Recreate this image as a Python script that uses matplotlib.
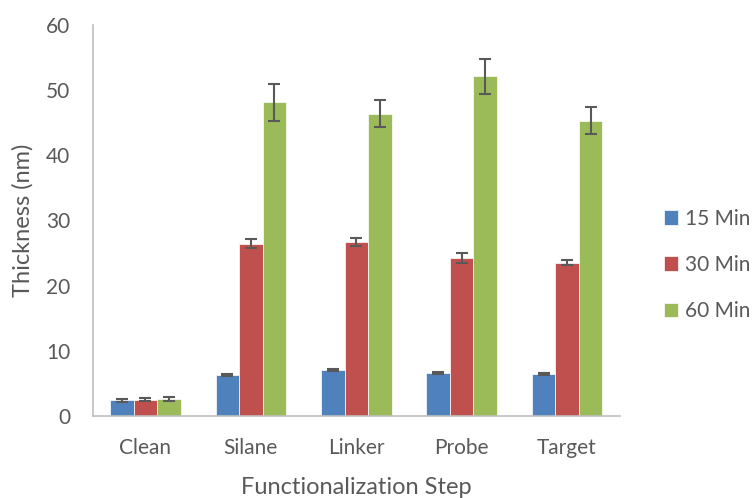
import matplotlib
matplotlib.use("Agg")
import matplotlib.pyplot as plt
import numpy as np

categories = ["Clean", "Silane", "Linker", "Probe", "Target"]
series_names = ["15 Min", "30 Min", "60 Min"]
v15 = [2.4, 6.3, 7.1, 6.6, 6.4]
v30 = [2.5, 26.4, 26.7, 24.2, 23.5]
v60 = [2.6, 48.1, 46.4, 52.1, 45.3]
e15 = [0.25, 0.15, 0.15, 0.15, 0.15]
e30 = [0.25, 0.7, 0.6, 0.8, 0.4]
e60 = [0.3, 2.9, 2.0, 2.7, 2.1]
colors = ["#4F81BD", "#C0504D", "#9BBB59"]

plt.rcParams['font.family'] = ['Lato', 'DejaVu Sans']
fig = plt.figure(figsize=(7.54, 4.98), dpi=100)
ax = fig.add_axes([0.123, 0.165, 0.699, 0.785])

x = np.arange(len(categories))
w = 0.223
for i, (vals, errs) in enumerate(zip([v15, v30, v60], [e15, e30, e60])):
    ax.bar(x + (i - 1) * w, vals, w, color=colors[i], label=series_names[i],
           edgecolor='white', linewidth=0.5,
           yerr=errs, error_kw=dict(ecolor='#595959', elinewidth=1.5, capsize=4.5, capthick=1.5))

ax.set_xlim(-0.5, 4.5)
ax.set_ylim(0, 60)
ax.set_yticks(range(0, 61, 10))
ax.set_xticks(x)
ax.set_xticklabels(categories)
ax.tick_params(axis='both', length=0, labelsize=15, colors='#595959')
ax.tick_params(axis='y', pad=16)
ax.tick_params(axis='x', pad=16)
for s in ['top', 'right']:
    ax.spines[s].set_visible(False)
for s in ['left', 'bottom']:
    ax.spines[s].set_color('#BFBFBF')
    ax.spines[s].set_linewidth(1.2)
ax.set_ylabel("Thickness (nm)", fontsize=17, color='#595959', labelpad=9)
ax.set_xlabel("Functionalization Step", fontsize=17, color='#595959', labelpad=14)

leg = fig.legend(loc='center left', bbox_to_anchor=(0.881, 0.468), frameon=False,
                 fontsize=15, handlelength=0.68, handleheight=0.68, labelspacing=1.25,
                 handletextpad=0.3, borderpad=0, borderaxespad=0)
for t in leg.get_texts():
    t.set_color('#595959')

fig.savefig("out.png", dpi=100)
